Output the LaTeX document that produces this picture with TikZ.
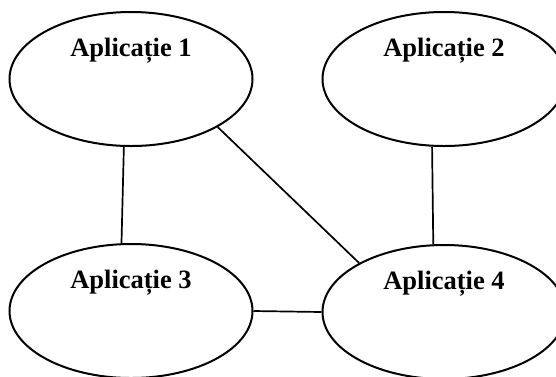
\documentclass[tikz,border=0pt]{standalone}
\usepackage{fontspec}
\setmainfont{Liberation Serif}
\usetikzlibrary{shapes.geometric}
\begin{document}
\begin{tikzpicture}[x=1pt,y=-1pt,
  app/.style={ellipse,draw,line width=2pt,minimum width=243pt,minimum height=134pt,inner sep=0pt},
  apptext/.style={font=\fontsize{26.5}{30}\selectfont\bfseries,inner sep=0pt},
  link/.style={line width=1.7pt}]
  \useasboundingbox (0,0) rectangle (556,376);
  \clip (0,0) rectangle (556,376);
  % the four applications
  \node[app] (e1) at (131,79) {};
  \node[app] (e2) at (444,79) {};
  \node[app] (e3) at (131,311) {};
  \node[app] (e4) at (444,312) {};
  \node[apptext] (t1) at (131,51) {Aplicație 1};
  \node[apptext] (t2) at (444,51) {Aplicație 2};
  \node[apptext] (t3) at (131,283) {Aplicație 3};
  \node[apptext] (t4) at (444,284) {Aplicație 4};
  % links between them
  \draw[link] (e1.264) -- (e3.98.6);
  \draw[link] (e1.331) -- (e4.150.8);
  \draw[link] (e2.260.7) -- (e4.99.3);
  \draw[link] (e3.east) -- (e4.west);
\end{tikzpicture}
\end{document}
